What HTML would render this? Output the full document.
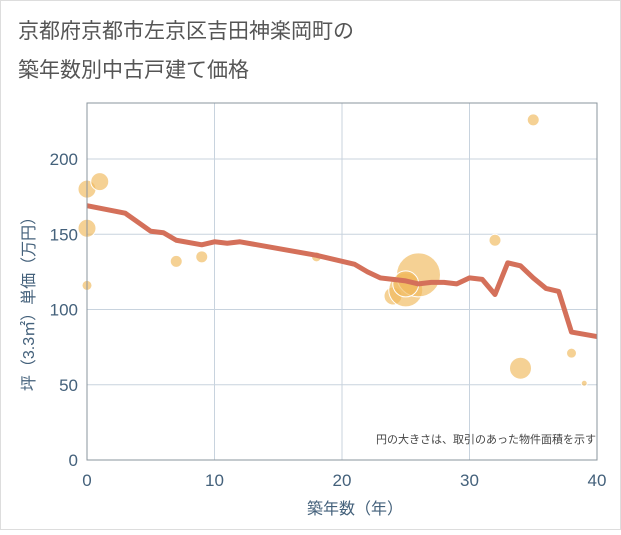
<!DOCTYPE html>
<html><head><meta charset="utf-8"><style>
body{margin:0;background:#fff;font-family:"Liberation Sans","Noto Sans CJK JP",sans-serif;}
</style></head><body>
<svg width="621" height="530" xmlns="http://www.w3.org/2000/svg">
<rect x="0.5" y="0.5" width="620" height="529" fill="#fff" stroke="#ddd"/>
<text x="18" y="38" font-size="21" fill="#555">京都府京都市左京区吉田神楽岡町の</text>
<text x="18" y="77" font-size="21" fill="#555">築年数別中古戸建て価格</text>
<g id="grid"></g>
<g id="bubbles"></g>
<g id="line"></g>
<rect x="87" y="103" width="510" height="357" fill="none" stroke="#8a949c" stroke-width="1"/>
<g id="axes"></g>
<text x="596" y="443" font-size="11" text-anchor="end" fill="#444">円の大きさは、取引のあった物件面積を示す</text>
<text x="355" y="514" font-size="16" text-anchor="middle" fill="#44617b">築年数（年）</text>
<text transform="translate(34,300) rotate(-90)" font-size="16" text-anchor="middle" fill="#44617b">坪（3.3㎡）単価（万円）</text>
</svg>
<script>
const xTicks=[0,10,20,30,40];
const yTicks=[0,50,100,150,200];
const lineYears=[0,3,5,6,7,9,10,11,12,18,20,21,22,23,24,25,26,27,28,29,30,31,32,33,34,35,36,37,38,40];
const lineValues=[169,164,152,151,146,143,145,144,145,136,132,130,125,121,120,119,117,118,118,117,121,120,110,131,129,121,114,112,85,82];
const bubbleYears=[0,1,0,0,7,9,18,24,25,26,25,32,34,35,38,39];
const bubbleValues=[180,185,154,116,132,135,135,109,113,123,117,146,61,226,71,51];
const bubbleSizes=[9,9,9,5,6,6,5,9,17,22,13,6,11,6,5,3];
const NS="http://www.w3.org/2000/svg";
const X=v=>87+v*12.75, Y=v=>460-v*1.505;
function mk(t,a,p){const e=document.createElementNS(NS,t);for(const k in a)e.setAttribute(k,a[k]);document.getElementById(p).appendChild(e);return e;}
xTicks.forEach(t=>{
 const l=mk('line',{x1:X(t),x2:X(t),y1:103,y2:460,stroke:'#c8d3de'},'grid');
 
 
 const tx=mk('text',{x:X(t),y:486,'font-size':17,'text-anchor':'middle',fill:'#44617b'},'axes');tx.textContent=t;
 
 
});
yTicks.forEach(t=>{
 const l=mk('line',{x1:87,x2:597,y1:Y(t),y2:Y(t),stroke:'#c8d3de'},'grid');
 
 
 const tx=mk('text',{x:78,y:Y(t)+6,'font-size':17,'text-anchor':'end',fill:'#44617b'},'axes');tx.textContent=t;
 
 
});
bubbleYears.forEach((yr,i)=>{
 const c=mk('circle',{cx:X(yr),cy:Y(bubbleValues[i]),r:bubbleSizes[i],fill:'#f0b85a','fill-opacity':0.65,stroke:'#fff','stroke-width':1},'bubbles');
 
 
});
const p=mk('polyline',{points:lineYears.map((yr,i)=>X(yr)+','+Y(lineValues[i])).join(' '),fill:'none',stroke:'#d4705a','stroke-width':5,'stroke-linejoin':'round'},'line');


</script>
</body></html>
